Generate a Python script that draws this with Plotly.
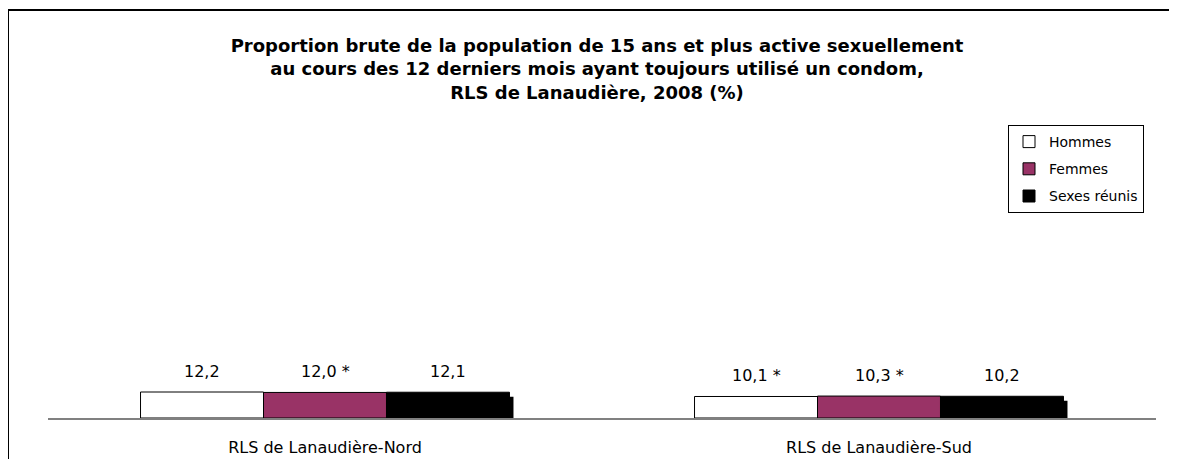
import plotly.graph_objects as go

# data
regions = ["RLS de Lanaudière-Nord", "RLS de Lanaudière-Sud"]
series_names = ["Hommes", "Femmes", "Sexes réunis"]
hommes = [12.2, 10.1]
femmes = [12.0, 10.3]
sexes_reunis = [12.1, 10.2]
value_labels = [
    ["12,2", "10,1 *"],
    ["12,0 *", "10,3 *"],
    ["12,1", "10,2"],
]

series_values = [hommes, femmes, sexes_reunis]
colors = ["#ffffff", "#993366", "#000000"]

# page body has an 8px margin, so the figure is drawn 8px smaller
W, H = 1169, 451
ml, mr, mt, mb = 40, 21, 197, 41
ymax = 100
pw, ph = W - ml - mr, H - mt - mb
px_x = pw / 2.0                     # px per category unit
px_y = ph / ymax                    # px per y unit
dx = 4 / px_x                       # shadow offset right
dy = 4.5 / px_y                     # shadow offset down

fig = go.Figure()

# drop shadows (drawn first, on base axes shifted a few pixels)
for vals in series_values:
    fig.add_trace(go.Bar(x=regions, y=vals, marker=dict(color="#000000", line=dict(width=0)),
                         showlegend=False, hoverinfo="skip", xaxis="x", yaxis="y"))

for i, (name, vals) in enumerate(zip(series_names, series_values)):
    fig.add_trace(go.Bar(x=regions, y=vals, name=name, legendgroup=name,
                         marker=dict(color=colors[i], line=dict(color="#000000", width=1)),
                         xaxis="x2", yaxis="y2"))

bar_px = px_x * (1 - 0.334) / 3
annotations = []
for i, labels in enumerate(value_labels):
    for j, lab in enumerate(labels):
        annotations.append(dict(x=regions[j], y=series_values[i][j], xref="x2", yref="y2",
                                text=lab, showarrow=False, yanchor="bottom", yshift=9,
                                xshift=(i - 1) * bar_px,
                                font=dict(family="DejaVu Sans", size=16, color="#000000")))

fig.update_layout(
    width=W, height=H,
    margin=dict(l=ml, r=mr, t=mt, b=mb, autoexpand=False),
    paper_bgcolor="white", plot_bgcolor="white",
    barmode="group", bargap=0.334, bargroupgap=0,
    title=dict(text="Proportion brute de la population de 15 ans et plus active sexuellement<br>"
                    "au cours des 12 derniers mois ayant toujours utilisé un condom,<br>"
                    "RLS de Lanaudière, 2008 (%)",
               x=589 / W, xanchor="center", y=1 - 44 / H, yanchor="middle",
               font=dict(family="DejaVu Sans", size=18, color="#000000", weight="bold")),
    xaxis=dict(range=[-0.5 - dx, 1.5 - dx], visible=False, fixedrange=True),
    yaxis=dict(range=[dy, ymax + dy], visible=False, fixedrange=True),
    xaxis2=dict(overlaying="x", side="bottom", range=[-0.5, 1.5], showline=True,
                linecolor="#808080", linewidth=2, ticks="outside", ticklen=14,
                tickcolor="rgba(0,0,0,0)", showgrid=False,
                tickfont=dict(family="DejaVu Sans", size=16, color="#000000")),
    yaxis2=dict(overlaying="y", range=[0, ymax], visible=False, showgrid=False),
    legend=dict(x=(1000 - ml) / pw, y=(H - mb - 117) / ph,
                xanchor="left", yanchor="top", bordercolor="#000000", borderwidth=1,
                bgcolor="white", traceorder="grouped", tracegroupgap=6,
                font=dict(family="DejaVu Sans", size=14, color="#000000")),
    annotations=annotations,
    shapes=[dict(type="rect", xref="paper", yref="paper",
                 x0=(0 - ml) / pw, x1=(W + 20 - ml) / pw,
                 y0=(H - mb - (H + 20)) / ph, y1=(H - mb - 2) / ph,
                 line=dict(color="#000000", width=2), layer="below")],
)

fig.write_html("out.html")
